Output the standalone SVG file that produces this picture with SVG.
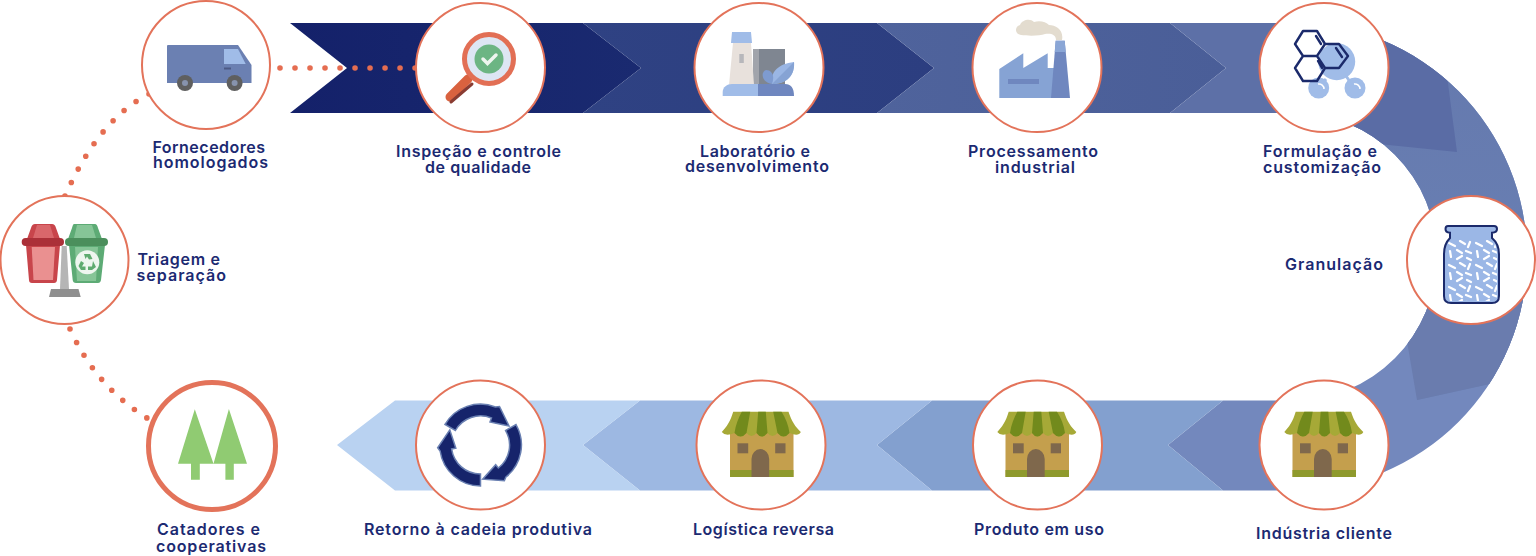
<svg xmlns="http://www.w3.org/2000/svg" xmlns:xlink="http://www.w3.org/1999/xlink" width="1536" height="556" viewBox="0 0 1536 556">
<style>
.ring{fill:#fff;stroke:#e3735a;stroke-width:2}
.lbl{font-family:Inter,"Liberation Sans",sans-serif;font-weight:600;font-size:16px;fill:#1c2a72}
.dots{fill:none;stroke:#e56d51;stroke-width:5.6;stroke-linecap:round;stroke-dasharray:0 1}
.hex{fill:none;stroke:#1b2a6b;stroke-width:2.4;stroke-linejoin:round;stroke-linecap:round}
</style>
<defs>
<clipPath id="ringClip"><path d="M1293 22.500A234 234 0 0 1 1293 490.500V400.500A144 144 0 0 0 1293 112.500Z"/></clipPath>
<linearGradient id="g1" x1="0" x2="1" y1="0" y2="0"><stop offset="0" stop-color="#14216a"/><stop offset="1" stop-color="#1a2a70"/></linearGradient>
<linearGradient id="g2" x1="0" x2="1" y1="0" y2="0"><stop offset="0" stop-color="#2f4283"/><stop offset="1" stop-color="#2c3e80"/></linearGradient>
<linearGradient id="g3" x1="0" x2="1" y1="0" y2="0"><stop offset="0" stop-color="#4f639c"/><stop offset="1" stop-color="#4a5e98"/></linearGradient>
<linearGradient id="gMid" x1="0" x2="0" y1="0" y2="1"><stop offset="0" stop-color="#6478ad"/><stop offset="1" stop-color="#6b82b5"/></linearGradient>
<pattern id="grains" patternUnits="userSpaceOnUse" x="1447" y="240" width="27" height="22">
<path d="M2 3l6 3M13 1l5 3M23 2l-2 5M3 11l1 6M10 10l5 3M19 11l5 2M10 19l5-3M20 18l4 2" fill="none" stroke="#fff" stroke-width="2.200" stroke-linecap="round"/>
</pattern>
<g id="house">
<rect x="-31.500" y="-13" width="63.500" height="45" fill="#c49f4d"/>
<rect x="-31.500" y="25" width="63.500" height="7" fill="#8f9a2d"/>
<path d="M-10 32V14a8.850 10 0 0 1 17.700 0V32Z" fill="#7f684c"/>
<rect x="-24" y="-1.700" width="10.700" height="10" fill="#7f684c"/>
<rect x="13.700" y="-1.700" width="10.300" height="10" fill="#7f684c"/>
<path d="M-28.300-33.300H27C30-24 34-18 39.300-13Q37-8 28-12Q22-5 16-12Q11-6 6-12Q0-5-5-12Q-10-6-15-12Q-21-5-27-12Q-36-8-39.700-13C-35-18-31-24-28.300-33.300Z" fill="#a6a937"/>
<path d="M-19.700-33.300H-11.300L-15-12Q-21-5-27-12C-26-20-23-27-19.700-33.300ZM-3.300-33.300H4.300L6-12Q0-5-5-12ZM11.700-33.300H20C24-27 27-20 28-12Q22-5 16-12Z" fill="#728a1c"/>
</g>
<path id="loop" d="M-35.500-20.500A41 41 0 0 1 15-38L19-38.500L28.500-19L9.500-23L11-27A29 29 0 0 0-25.100-14.500Z" fill="#16246b" stroke="#6a80b2" stroke-width="1.500"/>
</defs>

<g id="band">
<path d="M290 23H583L641 68L583 113H290L347 68Z" fill="url(#g1)"/>
<path d="M583 23H877L934 68L877 113H583L641 68Z" fill="url(#g2)"/>
<path d="M877 23H1170L1226 68L1170 113H877L934 68Z" fill="url(#g3)"/>
<path d="M1170 23H1295V113H1170L1226 68Z" fill="#5d70a7"/>
<g clip-path="url(#ringClip)">
<rect x="1290" y="0" width="250" height="500" fill="#7388bd"/>
<path d="M1290 0H1540V373L1417 400V343H1290Z" fill="url(#gMid)"/>
<path d="M1400 300H1540V373L1417 400Z" fill="#6a7cae"/>
<path d="M1290 0H1437L1457 152L1340 140H1290Z" fill="#5a6ca5"/>
</g>
<path d="M1295 400.500H1223L1168 445L1223 490.500H1295Z" fill="#7388bd"/>
<path d="M1223 400.500H932L877 445L932 490.500H1223L1168 445Z" fill="#83a0cf"/>
<path d="M932 400.500H640L583 445L640 490.500H932L877 445Z" fill="#9db8e2"/>
<path d="M640 400.500H395L337 445L395 490.500H640L583 445Z" fill="#b9d2f1"/>
</g>

<g id="connectors">
<path class="dots" pathLength="9.130" d="M280 68H417"/>
<path class="dots" pathLength="9.130" d="M149 94Q99 119 65 196L64.400 198"/>
<path class="dots" pathLength="8.170" d="M70 329Q95.500 386 147 418L149 419.200"/>
</g>

<g id="node-fornecedores">
<circle class="ring" cx="206" cy="65" r="64"/>
<path d="M167 46Q167 45 168 45H238L251.500 65V83H167Z" fill="#6b80b2"/>
<path d="M224 49H238L245.700 64H224Z" fill="#a0bce8"/>
<rect x="224" y="67.500" width="7" height="2" fill="#4d5a85"/>
<circle cx="185" cy="83" r="8" fill="#5f5f5f"/><circle cx="185" cy="83" r="3" fill="#8793ad"/>
<circle cx="234.600" cy="83" r="8" fill="#5f5f5f"/><circle cx="234.600" cy="83" r="3" fill="#8793ad"/>
<text class="lbl" x="152.500" y="152.500" textLength="112.500" lengthAdjust="spacing">Fornecedores</text>
<text class="lbl" x="153" y="168" textLength="115" lengthAdjust="spacing">homologados</text>
</g>

<g id="node-inspecao">
<circle class="ring" cx="480.500" cy="67.500" r="64.500"/>
<path d="M468 79L450 97" stroke="#d9623f" stroke-width="9" stroke-linecap="round" fill="none"/>
<path d="M472 84L451 102" stroke="#8a3c32" stroke-width="3" stroke-linecap="round" fill="none"/>
<circle cx="489" cy="59" r="24.500" fill="#dde6f3" stroke="#e26f55" stroke-width="5"/>
<circle cx="489" cy="59" r="14.500" fill="#6cb583"/>
<path d="M483 59L487.500 63.500L496 55" fill="none" stroke="#eef5ef" stroke-width="3.500" stroke-linecap="round"/>
<text class="lbl" x="396" y="157.300" textLength="165" lengthAdjust="spacing">Inspeção e controle</text>
<text class="lbl" x="425" y="172.700" textLength="106" lengthAdjust="spacing">de qualidade</text>
</g>

<g id="node-laboratorio">
<circle class="ring" cx="759" cy="67.500" r="64.500"/>
<rect x="753" y="49" width="32" height="36" fill="#7f8691"/>
<rect x="753" y="49" width="6" height="36" fill="#a1a4ab"/>
<path d="M733 43H751L754 85H729Z" fill="#e8e1dc"/>
<path d="M732 32H751L752 43H731Z" fill="#a0bce8"/>
<rect x="739.300" y="54" width="4.500" height="9" fill="#b7b7bb"/>
<path d="M772 84C770 72 778 64 794 62C795 74 788 84 772 84Z" fill="#9ab6e4"/>
<path d="M772 84L794 62C795 74 788 84 772 84Z" fill="#86a3d4"/>
<path d="M772 84C762 83 760 72 766 70C772 70 775 76 772 84Z" fill="#7e9bd0"/>
<path d="M722.700 96V92C722.700 87 727 84 732 84H758V96Z" fill="#a0bce8"/>
<path d="M758 84H785C791 84 794 88 794 96H758Z" fill="#6f87bf"/>
<text class="lbl" x="700" y="156.700" textLength="110" lengthAdjust="spacing">Laboratório e</text>
<text class="lbl" x="685" y="172.300" textLength="144" lengthAdjust="spacing">desenvolvimento</text>
</g>

<g id="node-processamento">
<circle class="ring" cx="1037" cy="67.500" r="64.500"/>
<path d="M999.300 98V69L1023.300 53.300V68L1047.700 53.300V68H1054V98Z" fill="#86a3d4"/>
<path d="M1055.700 40.700H1064.700L1070 98H1051Z" fill="#6f87bf"/>
<path d="M1055.700 40.700H1064.700L1065.700 52H1054.700Z" fill="#8aa6d6"/>
<rect x="1008" y="79" width="31" height="5" fill="#6f87bf"/>
<path d="M1021 35C1014 34 1015 26 1020 25C1022 20 1030 18 1034 22C1040 20 1046 22 1049 25C1056 25 1064 30 1062 40H1056C1056 34 1050 33 1045 34C1040 36 1028 36 1021 35Z" fill="#e3dccf"/>
<text class="lbl" x="968" y="157" textLength="130" lengthAdjust="spacing">Processamento</text>
<text class="lbl" x="995" y="172.500" textLength="80" lengthAdjust="spacing">industrial</text>
</g>

<g id="node-formulacao">
<circle class="ring" cx="1324" cy="67.500" r="64.500"/>
<circle cx="1336.700" cy="61.700" r="18.500" fill="#a0bce8"/>
<path d="M1326 79L1320 86M1346 76L1353 86" stroke="#a0bce8" stroke-width="3"/>
<circle cx="1318.700" cy="88" r="10.500" fill="#a0bce8"/>
<circle cx="1355" cy="88" r="10.500" fill="#a0bce8"/>
<path d="M1318 84A5 5 0 0 1 1324 89M1354 84A5 5 0 0 1 1360 89" fill="none" stroke="#fff" stroke-width="1.500"/>
<path class="hex" d="M1295 44L1303 31H1317L1325 44L1317 56H1303ZM1295 68L1303 56H1317L1325 68L1317 81H1303ZM1317 56L1325 44H1339L1348 56L1339 68H1325ZM1316 36L1321 44M1318 61L1322 68M1336 48L1342 57"/>
<text class="lbl" x="1263" y="157" textLength="114" lengthAdjust="spacing">Formulação e</text>
<text class="lbl" x="1263" y="172.500" textLength="118" lengthAdjust="spacing">customização</text>
</g>

<g id="node-granulacao">
<circle class="ring" cx="1471" cy="260" r="64"/>
<path d="M1448 226H1494Q1497 226 1497 229Q1497 232.500 1492 232.700V238Q1499 244 1499 254V296Q1499 303 1492 303H1451Q1444 303 1444 296V254Q1444 244 1450 238V232.700Q1445.500 232.500 1445.500 229Q1445.500 226 1448 226Z" fill="#9bb7e6" stroke="#1b2a6b" stroke-width="2"/>
<path d="M1450 240Q1446 245 1446 254V296Q1446 301 1451 301H1492Q1497 301 1497 296V254Q1497 245 1492 240Z" fill="url(#grains)"/>
<text class="lbl" x="1285" y="270" textLength="98" lengthAdjust="spacing">Granulação</text>
</g>

<g id="node-triagem">
<circle class="ring" cx="64.500" cy="260" r="64"/>
<path d="M61.700 246H66.700L69 289H60Z" fill="#b5b5b5"/>
<path d="M51 289H78.500L80.700 297H49Z" fill="#8f8f8f"/>
<path d="M35 224H52Q55 224 56 228L60 239H27L31 228Q32 224 35 224Z" fill="#c8454b"/>
<path d="M37 225H50L54 238H33Z" fill="#d9676b"/>
<path d="M26 245H60L57 280Q56.700 283 54 283H32Q29 283 29 280Z" fill="#c8454b"/>
<path d="M31.700 247H55L53 280H33.500Z" fill="#ea9090"/>
<rect x="21.700" y="238" width="42.300" height="8" rx="4" fill="#ab3038"/>
<path d="M74 224H95Q97 224 98 228L102 239H68L72 228Q73 224 74 224Z" fill="#5dab75"/>
<path d="M77 225H92L96 238H74Z" fill="#86c597"/>
<path d="M69 245H105L101 280Q100.500 283 98 283H76Q73 283 72.700 280Z" fill="#5dab75"/>
<path d="M75 247H98L96 281H77Z" fill="#86c597"/>
<rect x="65" y="238" width="43" height="8" rx="4" fill="#4b8f5c"/>
<circle cx="87.300" cy="262.300" r="12" fill="#eef6ef"/>
<path d="M84 254H90L92.500 259L89 259.500L87 256.500L85.500 259ZM93 261L96 267L92 270H88V266.500H92ZM85.500 270H81L78.500 266L81 261L84 263L82 266.500H85.500Z" fill="#5fab70"/>
<text class="lbl" x="137.500" y="265" textLength="82.500" lengthAdjust="spacing">Triagem e</text>
<text class="lbl" x="136.500" y="280.700" textLength="89.500" lengthAdjust="spacing">separação</text>
</g>

<g id="node-catadores">
<circle cx="212" cy="446" r="63.500" fill="#fff" stroke="#e3735a" stroke-width="5"/>
<path d="M194.800 409.300L213.500 463.700L228.900 409L247 463.700H233.800V479.700H225.400V463.700H199.800V479.700H191V463.700H178Z" fill="#90cb72"/>
<text class="lbl" x="157" y="535" textLength="103" lengthAdjust="spacing">Catadores e</text>
<text class="lbl" x="156" y="551.700" textLength="110" lengthAdjust="spacing">cooperativas</text>
</g>

<g id="node-retorno">
<circle class="ring" cx="480.500" cy="445" r="64.500"/>
<g transform="translate(480.500 445)">
<use href="#loop"/><use href="#loop" transform="rotate(120)"/><use href="#loop" transform="rotate(240)"/>
</g>
<text class="lbl" x="364" y="535" textLength="228" lengthAdjust="spacing">Retorno à cadeia produtiva</text>
</g>

<g id="node-logistica">
<circle class="ring" cx="761" cy="445" r="64.500"/>
<use href="#house" x="761.500" y="445"/>
<text class="lbl" x="693" y="535" textLength="141" lengthAdjust="spacing">Logística reversa</text>
</g>

<g id="node-produto">
<circle class="ring" cx="1037.500" cy="445" r="64.500"/>
<use href="#house" x="1037" y="445"/>
<text class="lbl" x="974" y="535" textLength="130" lengthAdjust="spacing">Produto em uso</text>
</g>

<g id="node-industria">
<circle class="ring" cx="1324" cy="445" r="64.500"/>
<use href="#house" x="1324" y="445"/>
<text class="lbl" x="1256" y="539.300" textLength="136" lengthAdjust="spacing">Indústria cliente</text>
</g>
</svg>
